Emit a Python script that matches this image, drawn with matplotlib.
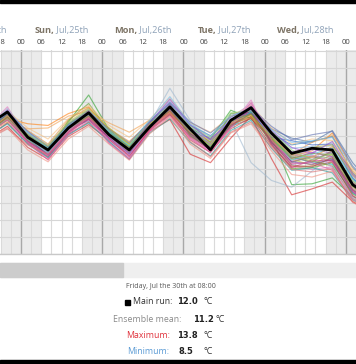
import matplotlib.pyplot as plt
from matplotlib.patches import Rectangle

# Ensemble temperature forecast, 6-hourly steps
# hours counted from Sun Jul 25 00:00 local time
hours = [-10, -4, 2, 8, 14, 20, 26, 32, 38, 44, 50, 56, 62, 68, 74, 80, 86, 92, 98, 104]

main_run = [21.2, 22.8, 19.8, 18.3, 20.9, 22.7, 20.1, 18.3, 21.0, 23.4,
            20.8, 18.3, 21.8, 23.3, 20.3, 17.9, 18.5, 18.3, 14.2, 12.5]

members = [
    [20.8, 22.6, 20.1, 18.5, 21.2, 22.5, 20.4, 18.6, 21.4, 23.3, 20.8, 19.2, 21.9, 22.9, 20.2, 18.9, 19.3, 19.9, 15.6, 13.2],
    [21.0, 22.0, 21.4, 21.2, 22.6, 23.4, 20.6, 19.0, 21.3, 22.6, 20.4, 19.5, 21.3, 22.3, 19.8, 17.6, 18.2, 20.3, 16.2, 13.8],
    [20.6, 22.4, 19.9, 18.3, 21.6, 24.8, 20.7, 18.5, 21.0, 23.1, 20.9, 19.6, 23.0, 22.0, 19.9, 14.2, 14.3, 15.0, 12.8, 11.5],
    [19.6, 21.1, 18.6, 17.2, 19.9, 21.3, 19.5, 17.7, 20.5, 21.9, 17.8, 16.8, 19.7, 22.3, 17.3, 13.0, 13.7, 14.5, 12.2, 11.0],
    [20.3, 22.9, 19.6, 18.0, 20.5, 22.0, 20.0, 18.1, 21.2, 23.7, 20.5, 18.9, 21.5, 22.8, 19.2, 16.6, 16.9, 17.1, 13.5, 12.0],
    [20.5, 21.8, 19.3, 17.9, 20.7, 21.9, 19.8, 18.0, 20.8, 22.5, 19.9, 18.6, 21.1, 22.0, 19.5, 16.9, 17.5, 17.0, 14.1, 12.6],
    [20.9, 23.4, 19.5, 17.4, 20.3, 22.4, 19.4, 17.3, 20.6, 23.5, 20.0, 18.4, 21.2, 24.2, 19.0, 16.4, 16.0, 16.3, 12.9, 11.8],
    [20.4, 22.1, 20.3, 18.7, 21.0, 22.3, 20.3, 18.4, 21.3, 22.9, 21.0, 19.0, 21.7, 23.0, 20.0, 17.8, 17.2, 18.0, 14.6, 12.4],
    [20.7, 22.5, 20.0, 18.1, 21.3, 22.8, 20.9, 18.9, 21.0, 22.7, 20.6, 19.3, 22.4, 22.4, 19.4, 17.2, 16.5, 17.8, 13.9, 12.2],
    [20.2, 22.2, 19.7, 18.6, 21.1, 21.7, 20.5, 18.8, 21.6, 23.2, 20.2, 18.5, 21.0, 22.6, 19.7, 17.5, 16.8, 16.6, 13.2, 11.9],
    [20.9, 23.2, 20.2, 18.8, 21.4, 22.9, 19.3, 18.3, 21.4, 25.6, 21.8, 18.7, 21.8, 16.8, 14.7, 13.9, 15.8, 17.6, 14.8, 12.9],
    [20.1, 22.0, 19.2, 17.8, 20.6, 22.1, 19.7, 17.9, 20.9, 23.0, 20.1, 18.2, 21.4, 23.4, 19.1, 17.3, 18.0, 17.5, 13.6, 11.6],
    [20.6, 22.7, 19.9, 18.4, 21.0, 22.6, 20.1, 18.3, 21.5, 23.8, 21.2, 20.0, 21.9, 22.9, 20.8, 19.7, 19.2, 20.6, 16.8, 14.0],
    [20.3, 21.6, 20.8, 20.9, 22.3, 22.9, 21.5, 20.4, 21.8, 22.8, 20.7, 19.1, 21.5, 22.4, 20.0, 17.8, 19.2, 20.0, 15.5, 13.3],
    [20.4, 22.2, 19.4, 17.9, 21.8, 23.8, 20.5, 18.7, 21.1, 23.2, 20.0, 18.4, 22.6, 22.7, 19.0, 16.1, 16.2, 16.8, 13.1, 11.8],
    [19.8, 21.5, 19.1, 17.5, 20.2, 21.6, 19.9, 17.6, 20.6, 22.4, 19.5, 18.0, 20.8, 22.1, 18.8, 16.3, 16.4, 16.9, 12.9, 11.4],
    [20.7, 22.8, 20.2, 18.0, 20.8, 22.5, 20.3, 18.2, 21.2, 23.6, 20.4, 19.7, 21.6, 23.1, 19.8, 18.1, 18.4, 17.9, 14.3, 12.5],
    [20.0, 21.9, 19.0, 17.3, 20.0, 21.8, 19.2, 17.4, 20.4, 22.3, 19.6, 18.1, 20.9, 23.7, 19.3, 17.0, 17.7, 16.9, 13.8, 12.3],
    [20.5, 22.4, 19.8, 18.2, 21.2, 22.7, 20.6, 18.6, 21.3, 23.0, 20.3, 18.6, 21.3, 22.2, 19.5, 17.4, 16.9, 18.2, 14.4, 12.8],
    [20.9, 23.0, 20.4, 18.9, 21.5, 23.1, 20.7, 19.2, 21.7, 24.0, 21.2, 19.4, 22.0, 23.2, 20.4, 18.5, 18.7, 18.8, 15.2, 13.1],
    [20.2, 22.2, 19.6, 18.1, 20.7, 22.2, 20.0, 18.0, 21.0, 22.8, 20.2, 18.9, 21.3, 22.5, 19.4, 16.8, 17.6, 17.3, 13.7, 12.1],
    [20.6, 22.6, 20.0, 18.4, 21.0, 22.4, 20.2, 18.5, 21.1, 23.1, 20.6, 19.2, 21.8, 22.6, 19.6, 17.6, 17.0, 16.4, 12.6, 11.3],
    [20.4, 22.3, 19.5, 18.0, 20.9, 22.6, 20.4, 18.4, 21.4, 23.4, 20.9, 18.8, 21.2, 22.8, 19.9, 17.1, 17.8, 18.5, 14.9, 12.7],
    [20.7, 22.1, 20.6, 19.0, 21.9, 23.3, 20.8, 19.3, 21.5, 22.6, 20.5, 19.0, 21.4, 22.1, 19.7, 17.9, 17.4, 18.7, 15.8, 13.5],
    [20.3, 22.7, 19.7, 17.7, 20.4, 22.0, 19.8, 17.8, 20.9, 23.2, 20.3, 18.6, 21.7, 23.0, 19.2, 16.9, 16.6, 17.2, 13.3, 11.9],
    [20.5, 22.5, 19.9, 18.3, 21.1, 22.5, 20.1, 18.3, 21.2, 23.0, 20.5, 19.0, 21.6, 22.7, 19.8, 19.4, 18.9, 19.0, 15.0, 12.8],
    [20.1, 21.9, 19.4, 17.6, 20.4, 21.9, 19.6, 17.5, 20.7, 22.6, 19.8, 18.3, 21.0, 23.1, 19.0, 16.2, 17.1, 17.0, 13.4, 11.7],
    [20.6, 22.4, 20.1, 18.6, 21.4, 23.0, 20.3, 18.7, 21.3, 23.3, 20.7, 18.7, 21.9, 22.5, 19.7, 17.3, 17.9, 17.7, 14.0, 12.2],
    [19.9, 21.4, 19.0, 17.4, 20.1, 21.5, 19.3, 17.2, 20.3, 22.0, 19.2, 17.6, 20.6, 21.8, 18.5, 15.9, 16.2, 15.6, 12.4, 11.2],
    [20.8, 22.9, 20.9, 19.6, 22.0, 23.6, 21.2, 19.8, 21.9, 24.4, 21.5, 20.4, 22.3, 23.6, 20.9, 19.0, 19.6, 19.4, 15.9, 13.6],
    [20.4, 23.1, 19.8, 17.9, 20.6, 22.6, 19.9, 17.7, 21.0, 24.1, 20.9, 19.0, 22.1, 23.8, 20.1, 17.6, 18.3, 16.2, 12.7, 11.4],
    [20.2, 22.0, 19.6, 18.2, 21.0, 22.3, 20.6, 18.9, 21.7, 23.5, 21.1, 19.8, 22.7, 22.9, 20.5, 18.3, 17.1, 17.9, 14.7, 12.6],
    [19.7, 20.9, 18.3, 16.9, 19.6, 21.1, 19.0, 17.1, 20.2, 22.2, 19.0, 17.3, 20.3, 21.4, 18.2, 15.4, 15.1, 15.8, 12.3, 11.0],
    [20.6, 22.8, 20.5, 18.7, 21.3, 22.8, 20.8, 19.1, 21.6, 23.9, 21.6, 20.3, 22.2, 23.3, 21.1, 19.5, 20.1, 20.5, 16.4, 13.9],
    [20.3, 22.4, 19.2, 17.1, 20.2, 22.2, 19.1, 17.2, 20.5, 23.0, 19.7, 18.0, 21.1, 23.9, 19.5, 16.7, 16.8, 15.9, 12.5, 11.3],
    [20.5, 22.3, 20.2, 18.8, 21.6, 23.2, 20.9, 19.0, 21.4, 22.9, 20.4, 18.9, 21.6, 22.4, 19.9, 17.7, 18.6, 18.9, 15.3, 13.0],
    [20.7, 23.0, 19.9, 18.2, 21.0, 22.9, 20.2, 18.4, 21.5, 24.3, 21.3, 19.5, 21.8, 23.5, 20.6, 18.6, 17.9, 19.3, 15.4, 13.2],
    [19.5, 20.8, 18.9, 17.8, 20.5, 22.1, 20.0, 18.2, 20.8, 22.7, 19.3, 17.5, 20.4, 21.6, 18.6, 16.0, 15.7, 16.1, 12.1, 10.9],
    [20.8, 22.7, 20.3, 18.5, 21.2, 22.7, 20.5, 18.8, 21.8, 24.6, 21.4, 19.9, 22.4, 23.0, 20.7, 19.2, 19.4, 19.8, 16.3, 13.7],
    [20.3, 22.2, 19.7, 18.3, 20.8, 22.3, 20.0, 18.3, 21.1, 22.9, 20.2, 18.5, 21.2, 22.6, 19.3, 16.5, 16.3, 17.4, 13.6, 12.0],
]

member_colors = ['#1f77b4', '#ff7f0e', '#2ca02c', '#d62728', '#9467bd', '#8c564b', '#e377c2',
                 '#7f7f7f', '#bcbd22', '#17becf', '#9fb8cf', '#c020c0', '#4a6fa5', '#f0a050',
                 '#5aa02c', '#c04040', '#8e5fc0', '#f080c0', '#a07050', '#80b0e0', '#909090',
                 '#a0a040', '#40c0d0', '#e09040', '#7040a0', '#3060c0', '#d04080', '#80b040',
                 '#20a0a0', '#f8c080', '#c0a0e0', '#90d070', '#f09080', '#6070b0', '#e060a0',
                 '#c8c040', '#9050d0', '#e07070', '#70b8e8', '#a06040']

# Header labels
day_noon = [-12, 12, 36, 60, 84]
day_names = ["Sat,", "Sun,", "Mon,", "Tue,", "Wed,"]
day_dates = ["Jul,24th", "Jul,25th", "Jul,26th", "Jul,27th", "Jul,28th"]
tick_hours = [-6, 0, 6, 12, 18, 24, 30, 36, 42, 48, 54, 60, 66, 72, 78, 84, 90, 96]
tick_labels = ["18", "00", "06", "12", "18", "00", "06", "12", "18",
               "00", "06", "12", "18", "00", "06", "12", "18", "00"]

# Summary at the bottom
summary_date = "Friday, Jul the 30th at 08:00"
main_value = "12.0"
mean_value = "11.2"
max_value = "13.8"
min_value = "8.5"

W, H = 356, 364
fig = plt.figure(figsize=(W / 100, H / 100), dpi=100)
fig.patch.set_facecolor("white")


def fx(x):
    return x / W


def fy(y):
    return 1 - y / H


# Black frame strips at top and bottom
fig.patches.append(Rectangle((0, fy(2.5)), 1, 2.5 / H, transform=fig.transFigure, color="black"))
fig.patches.append(Rectangle((0, 0), 1, 4.5 / H, transform=fig.transFigure, color="black"))

# Scroll bar under the chart
fig.patches.append(Rectangle((0, fy(277)), 1, 14 / H, transform=fig.transFigure, color="#efefef"))
fig.patches.append(Rectangle((0, fy(277)), fx(123), 14 / H, transform=fig.transFigure, color="#cccccc"))

# Main plot area
ax = fig.add_axes([0, fy(254), 1, (254 - 50) / H])
ax.set_xlim(-6.2, 99.0)
ax.set_ylim(6, 30.12)
ax.set_facecolor("white")

# Night shading (18h - 06h)
for d in range(-1, 5):
    ax.axvspan(24 * d - 6, 24 * d + 6, color="#ebebeb", lw=0, zorder=0)

# Grid
for h in range(-6, 102, 3):
    if h % 24 == 0:
        ax.axvline(h, color="#a8a8a8", lw=1.0, zorder=1)
    else:
        ax.axvline(h, color="#dadada", lw=0.8, zorder=1)
for t in range(6, 31, 2):
    ax.axhline(t, color="#d6d6d6", lw=0.8, zorder=1)

# Ensemble members
for vals, c in zip(members, member_colors):
    ax.plot(hours, vals, color=c, lw=0.85, alpha=0.6, zorder=2)

# Main run
ax.plot(hours, main_run, color="black", lw=2.0, zorder=3)

ax.set_xticks([])
ax.set_yticks([])
for s in ["top", "left", "right"]:
    ax.spines[s].set_visible(False)
ax.spines["bottom"].set_color("#c8c8c8")
ax.spines["bottom"].set_linewidth(1.0)

# Hour labels above plot
for h, lab in zip(tick_hours, tick_labels):
    x = 21 + h * 81.25 / 24
    fig.text(fx(x), fy(42), lab, ha="center", va="center", fontsize=5.5,
             color="#444444", family="Open Sans")

# Day labels (two colours, centred at noon)
renderer = fig.canvas.get_renderer()
for noon, name, date in zip(day_noon, day_names, day_dates):
    xc = 21 + noon * 81.25 / 24
    t1 = fig.text(0, fy(31), name, ha="left", va="center", fontsize=6.6,
                  color="#7d7466", fontweight="bold", family="Open Sans")
    t2 = fig.text(0, fy(31), " " + date, ha="left", va="center", fontsize=6.6,
                  color="#8fa2b8", family="Open Sans")
    w1 = t1.get_window_extent(renderer).width
    w2 = t2.get_window_extent(renderer).width
    x0 = xc - (w1 + w2) / 2
    t1.set_x(fx(x0))
    t2.set_x(fx(x0 + w1))

# Summary text
fig.text(fx(171), fy(286), summary_date, ha="center", va="center", fontsize=5,
         color="#555555", family="Open Sans")

rows = [
    (302, "Main run:", "#333333", 133, main_value, 177, 204),
    (320, "Ensemble mean:", "#8a8a8a", 113, mean_value, 193, 216),
    (335, "Maximum:", "#e0323c", 126, max_value, 177, 204),
    (351, "Minimum:", "#5b9bd5", 127, min_value, 179, 204),
]
for y, label, col, xl, val, xv, xu in rows:
    fig.text(fx(xl), fy(y), label, ha="left", va="center", fontsize=6.3,
             color=col, family="Open Sans")
    fig.text(fx(xv), fy(y), val, ha="left", va="center", fontsize=6.0,
             color="#222222", fontweight="bold", family="DejaVu Sans")
    fig.text(fx(xu), fy(y), "°C", ha="left", va="center", fontsize=6.5,
             color="#333333", family="Open Sans")

# Small black square before "Main run"
fig.patches.append(Rectangle((fx(125), fy(304.5)), 5 / W, 5 / H, transform=fig.transFigure, color="black"))

fig.savefig("out.png", dpi=100)
